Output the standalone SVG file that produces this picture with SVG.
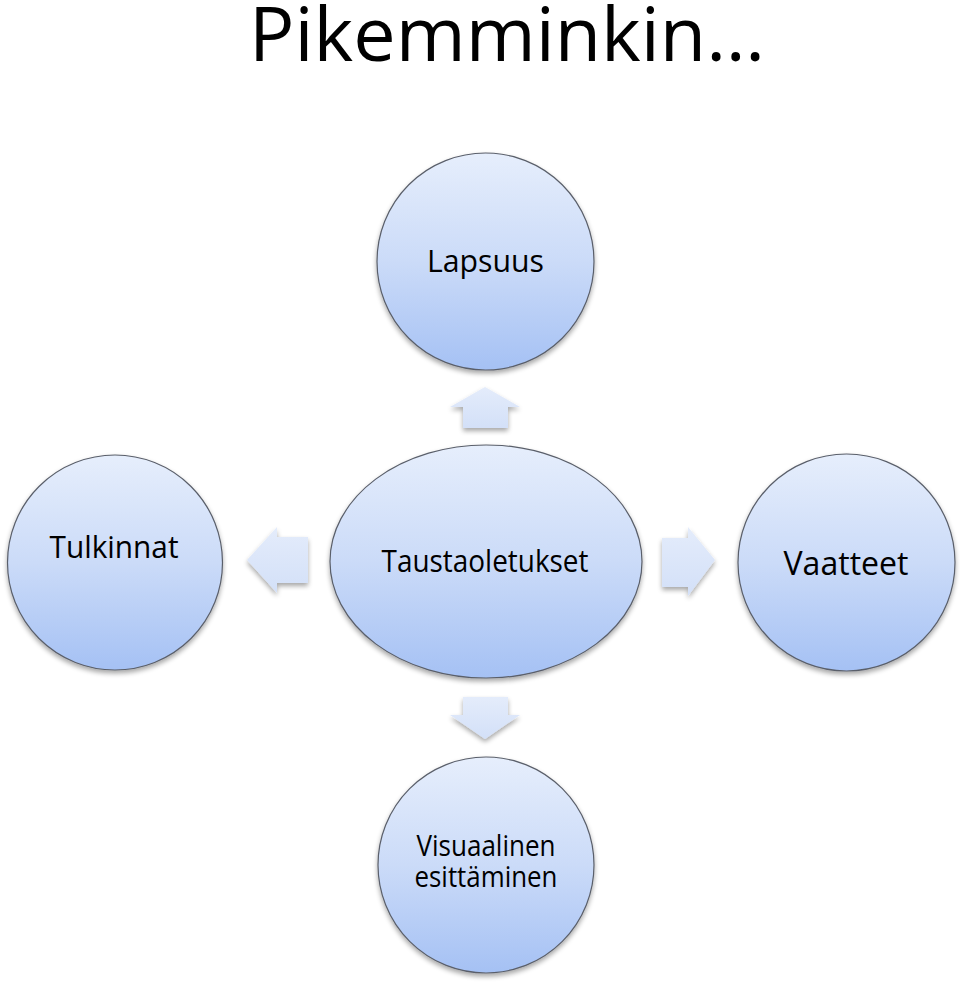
<svg xmlns="http://www.w3.org/2000/svg" width="960" height="983" viewBox="0 0 960 983">
<defs>
<linearGradient id="gNode" x1="0" y1="0" x2="0" y2="1">
<stop offset="0" stop-color="#e6eefc"/>
<stop offset="0.5" stop-color="#cbdbf8"/>
<stop offset="1" stop-color="#a5c1f4"/>
</linearGradient>
<linearGradient id="gArrow" x1="0" y1="0" x2="0" y2="1">
<stop offset="0" stop-color="#e4ecfb"/>
<stop offset="1" stop-color="#d3e0f8"/>
</linearGradient>
<filter id="shadow" x="-20%" y="-20%" width="140%" height="140%">
<feGaussianBlur in="SourceAlpha" stdDeviation="2.5"/>
<feOffset dx="0" dy="3" result="b"/>
<feComponentTransfer><feFuncA type="linear" slope="0.35"/></feComponentTransfer>
<feMerge><feMergeNode/><feMergeNode in="SourceGraphic"/></feMerge>
</filter>
</defs>
<style>
.node{fill:url(#gNode);stroke:#5a5f6a;stroke-width:1.2;filter:url(#shadow)}
.arrow{fill:url(#gArrow);stroke:none;filter:url(#shadow)}
.lbl{font-family:"Open Sans","Liberation Sans",sans-serif;fill:#000;text-anchor:middle}
</style>
<rect width="960" height="983" fill="#ffffff"/>
<text x="507" y="61" class="lbl" font-size="75" textLength="516" lengthAdjust="spacingAndGlyphs">Pikemminkin…</text>
<g id="connectors">
<path class="arrow" d="M485,387 L520,407 L508,407 L508,428 L463,428 L463,407 L450,407 Z"/>
<path class="arrow" d="M247,560 L277,527 L277,537 L308,537 L308,583 L277,583 L277,593 Z"/>
<path class="arrow" d="M715,560 L688,527 L688,538 L662,538 L662,587 L688,587 L688,596 Z"/>
<path class="arrow" d="M485,739 L520,715 L508,715 L508,697 L463,697 L463,715 L450,715 Z"/>
</g>
<g id="lapsuus">
<circle class="node" cx="485.5" cy="261.5" r="108.5"/>
<text class="lbl" x="485.5" y="272" font-size="31" textLength="117" lengthAdjust="spacingAndGlyphs">Lapsuus</text>
</g>
<g id="taustaoletukset">
<ellipse class="node" cx="486" cy="561.5" rx="156" ry="116.5"/>
<text class="lbl" x="485" y="572" font-size="31" textLength="207" lengthAdjust="spacingAndGlyphs">Taustaoletukset</text>
</g>
<g id="tulkinnat">
<circle class="node" cx="115" cy="562.5" r="107.5"/>
<text class="lbl" x="114" y="558" font-size="31" textLength="129" lengthAdjust="spacingAndGlyphs">Tulkinnat</text>
</g>
<g id="vaatteet">
<circle class="node" cx="846.5" cy="562.5" r="108.5"/>
<text class="lbl" x="846" y="575" font-size="32" textLength="125" lengthAdjust="spacingAndGlyphs">Vaatteet</text>
</g>
<g id="visuaalinen">
<circle class="node" cx="486" cy="865" r="108"/>
<text class="lbl" x="486" y="856" font-size="30" textLength="139" lengthAdjust="spacingAndGlyphs">Visuaalinen</text>
<text class="lbl" x="486" y="887" font-size="30" textLength="143" lengthAdjust="spacingAndGlyphs">esittäminen</text>
</g>
</svg>
